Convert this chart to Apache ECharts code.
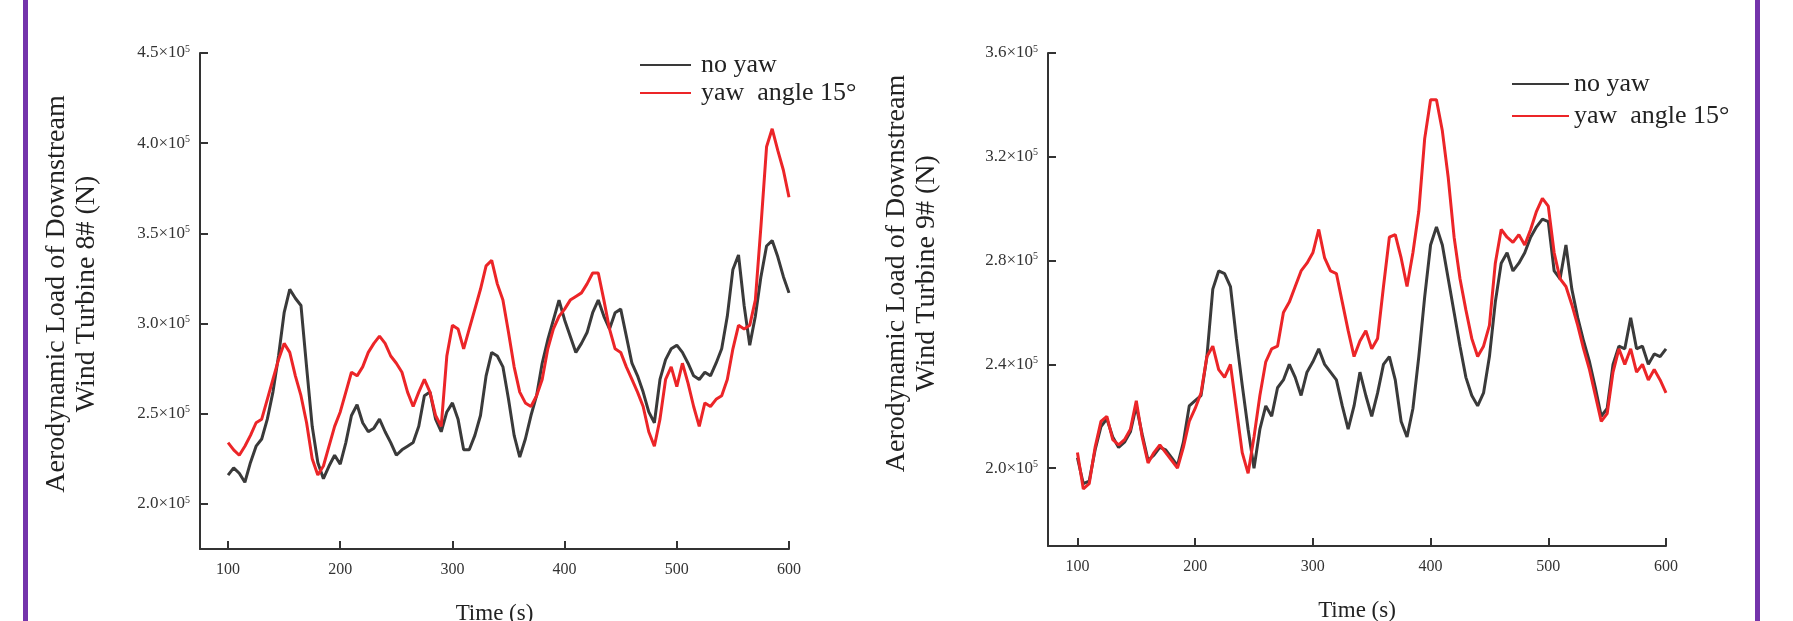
<!DOCTYPE html>
<html>
<head>
<meta charset="utf-8">
<script src="https://cdn.jsdelivr.net/npm/echarts@6/dist/echarts.min.js"></script>
<style>
html,body{margin:0;padding:0;background:#fff;}
#chart{width:1793px;height:621px;position:relative;}
.bar{position:absolute;top:0;width:5px;height:621px;background:#7434ab;}
</style>
</head>
<body>
<div id="chart"></div>
<div class="bar" style="left:23px"></div>
<div class="bar" style="left:1755px"></div>
<script>
// Time (s)
const time = [100,105,110,115,120,125,130,135,140,145,150,155,160,165,170,175,180,185,190,195,
200,205,210,215,220,225,230,235,240,245,250,255,260,265,270,275,280,285,290,295,
300,305,310,315,320,325,330,335,340,345,350,355,360,365,370,375,380,385,390,395,
400,405,410,415,420,425,430,435,440,445,450,455,460,465,470,475,480,485,490,495,
500,505,510,515,520,525,530,535,540,545,550,555,560,565,570,575,580,585,590,595,600];

const xTicks = [100,200,300,400,500,600];
const yTicksLeft = [200000,250000,300000,350000,400000,450000];
const yTicksRight = [200000,240000,280000,320000,360000];

// Turbine 8# load, units of 1e5 N
const t8NoYaw = [2.16,2.20,2.17,2.12,2.23,2.32,2.36,2.47,2.62,2.82,3.06,3.19,3.14,3.10,2.76,2.43,2.23,2.14,2.21,2.27,
2.22,2.34,2.49,2.55,2.45,2.40,2.42,2.47,2.40,2.34,2.27,2.30,2.32,2.34,2.43,2.60,2.62,2.47,2.40,2.51,
2.56,2.47,2.30,2.30,2.38,2.49,2.71,2.84,2.82,2.76,2.58,2.38,2.26,2.36,2.49,2.60,2.78,2.91,3.02,3.13,
3.02,2.93,2.84,2.89,2.95,3.06,3.13,3.04,2.97,3.06,3.08,2.93,2.78,2.71,2.62,2.51,2.45,2.69,2.80,2.86,
2.88,2.84,2.78,2.71,2.69,2.73,2.71,2.78,2.86,3.04,3.30,3.38,3.10,2.88,3.04,3.26,3.43,3.46,3.37,3.26,3.17];
const t8Yaw15 = [2.34,2.30,2.27,2.32,2.38,2.45,2.47,2.58,2.69,2.80,2.89,2.84,2.71,2.60,2.45,2.25,2.16,2.21,2.32,2.43,
2.51,2.62,2.73,2.71,2.76,2.84,2.89,2.93,2.89,2.82,2.78,2.73,2.62,2.54,2.62,2.69,2.62,2.49,2.43,2.82,
2.99,2.97,2.86,2.97,3.08,3.19,3.32,3.35,3.22,3.13,2.95,2.76,2.62,2.56,2.54,2.60,2.69,2.86,2.97,3.04,
3.08,3.13,3.15,3.17,3.22,3.28,3.28,3.13,2.97,2.86,2.84,2.76,2.69,2.62,2.54,2.40,2.32,2.47,2.69,2.76,
2.65,2.78,2.67,2.54,2.43,2.56,2.54,2.58,2.60,2.69,2.86,2.99,2.97,2.99,3.13,3.54,3.98,4.08,3.96,3.85,3.70];

// Turbine 9# load, units of 1e5 N
const t9NoYaw = [2.04,1.94,1.95,2.07,2.16,2.19,2.12,2.08,2.10,2.14,2.24,2.13,2.03,2.05,2.08,2.07,2.04,2.01,2.10,2.24,
2.26,2.28,2.43,2.69,2.76,2.75,2.70,2.50,2.32,2.15,2.00,2.15,2.24,2.20,2.31,2.34,2.40,2.35,2.28,2.37,
2.41,2.46,2.40,2.37,2.34,2.24,2.15,2.24,2.37,2.28,2.20,2.29,2.40,2.43,2.34,2.18,2.12,2.23,2.43,2.66,
2.86,2.93,2.86,2.73,2.60,2.47,2.35,2.28,2.24,2.29,2.43,2.64,2.79,2.83,2.76,2.79,2.83,2.89,2.93,2.96,
2.95,2.76,2.73,2.86,2.69,2.58,2.49,2.41,2.31,2.20,2.23,2.40,2.47,2.46,2.58,2.46,2.47,2.40,2.44,2.43,2.46];
const t9Yaw15 = [2.06,1.92,1.94,2.08,2.18,2.20,2.11,2.09,2.11,2.15,2.26,2.12,2.02,2.06,2.09,2.06,2.03,2.00,2.08,2.18,
2.23,2.29,2.43,2.47,2.38,2.35,2.40,2.23,2.06,1.98,2.12,2.28,2.41,2.46,2.47,2.60,2.64,2.70,2.76,2.79,
2.83,2.92,2.81,2.76,2.75,2.64,2.53,2.43,2.49,2.53,2.46,2.50,2.70,2.89,2.90,2.81,2.70,2.83,2.99,3.27,
3.42,3.42,3.30,3.12,2.89,2.73,2.61,2.50,2.43,2.47,2.55,2.79,2.92,2.89,2.87,2.90,2.86,2.92,2.99,3.04,
3.01,2.83,2.73,2.70,2.63,2.55,2.46,2.38,2.28,2.18,2.21,2.37,2.46,2.40,2.46,2.37,2.40,2.34,2.38,2.34,2.29];

const seriesNames = ['no yaw', 'yaw  angle 15°'];

const FONT = "'Liberation Serif','Times New Roman',serif";
const BLACK = '#3a3a3a';
const RED = '#ec2528';
const AXIS = '#333';

function pairs(vals){ return time.map((t,i)=>[t, vals[i]*1e5]); }

function yLabel(v){
  return '{a|' + (v/1e5).toFixed(1) + '×10}{s|5}';
}

function xAxis(idx){
  return {
    type:'value', gridIndex:idx, min:75, max:600,
    name:'Time (s)', nameLocation:'middle', nameGap:53,
    nameTextStyle:{fontFamily:FONT, fontSize:23, color:'#222'},
    axisLine:{show:true, onZero:false, lineStyle:{color:AXIS, width:2}},
    axisTick:{show:true, inside:true, length:8, customValues:xTicks, lineStyle:{color:AXIS, width:2}},
    axisLabel:{customValues:xTicks, fontFamily:FONT, fontSize:16, color:'#333', margin:13},
    splitLine:{show:false}
  };
}
function yAxis(idx, min, max, ticks, name, gap, shift){
  return {
    type:'value', gridIndex:idx, min:min, max:max,
    name:name, nameLocation:'middle', nameGap:gap, nameRotate:90,
    nameTextStyle:{fontFamily:FONT, fontSize:28, color:'#222', lineHeight:30, align:'center', padding:[0,0,0,shift]},
    axisLine:{show:true, onZero:false, lineStyle:{color:AXIS, width:2}},
    axisTick:{show:true, inside:true, length:8, customValues:ticks, lineStyle:{color:AXIS, width:2}},
    axisLabel:{customValues:ticks, formatter:yLabel, margin:10, color:'#333',
      rich:{a:{fontFamily:FONT, fontSize:17, color:'#333'}, s:{fontFamily:FONT, fontSize:10, color:'#333', verticalAlign:'top', padding:[0,0,8,0]}}},
    splitLine:{show:false}
  };
}

const legendText = {fontFamily:FONT, fontSize:26, color:'#222', lineHeight:28};

const chart = echarts.init(document.getElementById('chart'), null, {renderer:'canvas'});
chart.setOption({
  animation:false,
  backgroundColor:'transparent',
  grid:[
    {left:200, right:1004, top:53, bottom:72, containLabel:false, outerBoundsMode:'none'},
    {left:1048, right:127, top:53, bottom:75, containLabel:false, outerBoundsMode:'none'}
  ],
  xAxis:[xAxis(0), xAxis(1)],
  yAxis:[
    yAxis(0, 175000, 450000, yTicksLeft, 'Aerodynamic Load of Downstream\nWind Turbine 8# (N)', 98, 14),
    yAxis(1, 170000, 360000, yTicksRight, 'Aerodynamic Load of Downstream\nWind Turbine 9# (N)', 106, 52)
  ],
  legend:[
    {left:635, top:46, orient:'vertical', icon:'rect', itemWidth:51, itemHeight:2, itemGap:0,
     data:seriesNames, textStyle:Object.assign({padding:[0,0,0,5]}, legendText)},
    {left:1507, top:65, orient:'vertical', icon:'rect', itemWidth:57, itemHeight:2, itemGap:4,
     data:seriesNames, textStyle:Object.assign({padding:[0,0,0,0]}, legendText)}
  ],
  series:[
    {name:seriesNames[0], type:'line', xAxisIndex:0, yAxisIndex:0, data:pairs(t8NoYaw), symbol:'none', color:BLACK, lineStyle:{width:3, color:BLACK}},
    {name:seriesNames[1], type:'line', xAxisIndex:0, yAxisIndex:0, data:pairs(t8Yaw15), symbol:'none', color:RED, lineStyle:{width:3, color:RED}},
    {name:seriesNames[0], type:'line', xAxisIndex:1, yAxisIndex:1, data:pairs(t9NoYaw), symbol:'none', color:BLACK, lineStyle:{width:3, color:BLACK}},
    {name:seriesNames[1], type:'line', xAxisIndex:1, yAxisIndex:1, data:pairs(t9Yaw15), symbol:'none', color:RED, lineStyle:{width:3, color:RED}}
  ]
});
</script>
</body>
</html>
